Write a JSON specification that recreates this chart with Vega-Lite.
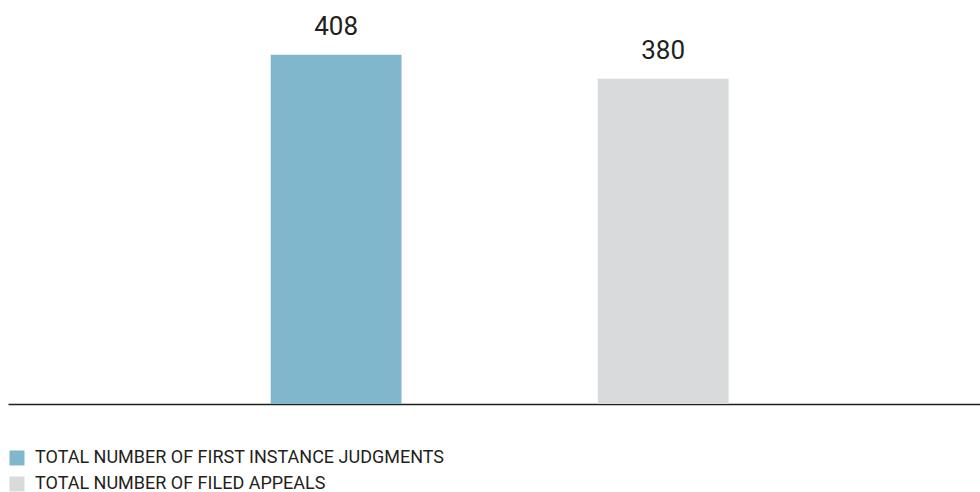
{
  "$schema": "https://vega.github.io/schema/vega-lite/v6.json",
  "width": 972,
  "height": 404,
  "padding": {"left": 8, "top": 0, "right": 0, "bottom": 0},
  "background": "white",
  "config": {"view": {"stroke": null}, "font": "Roboto"},
  "data": {"values": [
    {"category": "TOTAL NUMBER OF FIRST INSTANCE JUDGMENTS", "value": 408},
    {"category": "TOTAL NUMBER OF FILED APPEALS", "value": 380}
  ]},
  "encoding": {
    "x": {"field": "category", "type": "nominal", "sort": null,
      "scale": {"paddingInner": 0.6, "paddingOuter": 0.786, "align": 0.511},
      "axis": {"labels": false, "ticks": false, "title": null, "domainColor": "#231f20", "domainWidth": 1.5}},
    "y": {"field": "value", "type": "quantitative", "scale": {"domain": [0, 472]}, "axis": null}
  },
  "layer": [
    {"mark": {"type": "bar"},
     "encoding": {
       "color": {"field": "category", "type": "nominal", "sort": null,
         "scale": {"domain": ["TOTAL NUMBER OF FIRST INSTANCE JUDGMENTS", "TOTAL NUMBER OF FILED APPEALS"], "range": ["#80b7cd", "#d9dadc"]},
         "legend": {"orient": "none", "legendX": 0, "legendY": 449, "padding": 0, "title": null, "symbolType": "square", "symbolSize": 225, "symbolStrokeWidth": 0, "labelFontSize": 18, "labelColor": "#231f20", "labelFont": "Roboto", "rowPadding": 8, "labelOffset": 9, "labelLimit": 0}
       }}},
    {"mark": {"type": "text", "baseline": "bottom", "dy": -15, "fontSize": 26, "color": "#231f20", "font": "Roboto"},
     "encoding": {"text": {"field": "value", "type": "quantitative"}}}
  ]
}
